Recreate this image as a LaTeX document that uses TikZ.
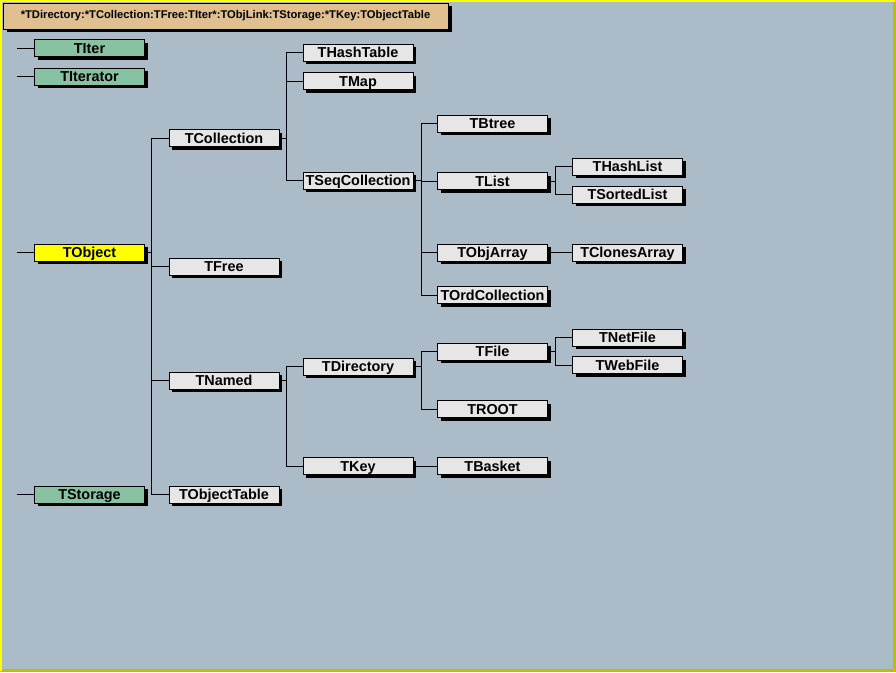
\documentclass[tikz,border=0pt]{standalone}
\usepackage{fontspec}
\setmainfont{Liberation Sans}
\usetikzlibrary{shadows}

\definecolor{canvasbg}{RGB}{171,187,199}
\definecolor{framelight}{RGB}{255,255,0}
\definecolor{framedark}{RGB}{190,190,0}
\definecolor{classwhite}{RGB}{230,230,230}
\definecolor{classgreen}{RGB}{136,194,162}
\definecolor{classroot}{RGB}{255,255,0}
\definecolor{titletan}{RGB}{224,192,144}

\tikzset{
  cls/.style={draw=black, line width=0.75pt, fill=classwhite, minimum width=82.5pt,
    minimum height=12.75pt, inner sep=0pt, text height=7.6pt, text depth=0pt,
    font=\bfseries\fontsize{10.8}{12}\selectfont,
    general shadow={fill=black, shadow xshift=2.25pt, shadow yshift=-2.25pt}},
  extcls/.style={cls, fill=classgreen},
  rootcls/.style={cls, fill=classroot},
  link/.style={line width=0.75pt, black}
}

\begin{document}
\begin{tikzpicture}[x=0.75pt,y=0.75pt,yscale=-1,xscale=1]
%Canvas and frame
\fill [canvasbg] (0,0) rectangle (896,672);
\useasboundingbox (0,0) rectangle (896,672);
\draw [framedark, line width=2.25pt] (1.5,670.5) -- (894.5,670.5) -- (894.5,1.5);
\draw [framelight, line width=1.5pt] (1,671) -- (1,1) -- (895,1);

%Title
\node [draw=black, line width=0.75pt, fill=titletan, minimum width=333.75pt, minimum height=19.5pt,
  inner sep=0pt, text height=6pt, text depth=1.6pt, font=\bfseries\fontsize{8.4}{10}\selectfont,
  general shadow={fill=black, shadow xshift=3pt, shadow yshift=-2.25pt}] (title) at (225.5,16)
  {*TDirectory:*TCollection:TFree:TIter*:TObjLink:TStorage:*TKey:TObjectTable};

%Column 1
\node [extcls] (titer) at (89.5,48) {TIter};
\node [extcls] (titerator) at (89.5,76.5) {TIterator};
\node [rootcls] (tobject) at (89.5,252.5) {TObject};
\node [extcls] (tstorage) at (89.5,494.5) {TStorage};

%Column 2
\node [cls] (tcollection) at (224,138) {TCollection};
\node [cls] (tfree) at (224,266.5) {TFree};
\node [cls] (tnamed) at (224,380.5) {TNamed};
\node [cls] (tobjecttable) at (224,494.5) {TObjectTable};

%Column 3
\node [cls] (thashtable) at (358,52.5) {THashTable};
\node [cls] (tmap) at (358,81) {TMap};
\node [cls] (tseqcollection) at (358,180.5) {TSeqCollection};
\node [cls] (tdirectory) at (358,366.5) {TDirectory};
\node [cls] (tkey) at (358,466) {TKey};

%Column 4
\node [cls] (tbtree) at (492.5,123.5) {TBtree};
\node [cls] (tlist) at (492.5,181) {TList};
\node [cls] (tobjarray) at (492.5,252.5) {TObjArray};
\node [cls] (tordcollection) at (492.5,295) {TOrdCollection};
\node [cls] (tfile) at (492.5,351.5) {TFile};
\node [cls] (troot) at (492.5,409) {TROOT};
\node [cls] (tbasket) at (492.5,466) {TBasket};

%Column 5
\node [cls] (thashlist) at (627.5,166.5) {THashList};
\node [cls] (tsortedlist) at (627.5,194.5) {TSortedList};
\node [cls] (tclonesarray) at (627.5,252.5) {TClonesArray};
\node [cls] (tnetfile) at (627.5,337.5) {TNetFile};
\node [cls] (twebfile) at (627.5,365) {TWebFile};

%Root stubs
\foreach \r in {titer,titerator,tobject,tstorage}
  \draw [link] (\r.west) -- ++(-17,0);

%Inheritance links
\foreach \c in {tcollection,tfree,tnamed,tobjecttable}
  \draw [link] (tobject.east) -- ++(6,0) |- (\c.west);
\foreach \c in {thashtable,tmap,tseqcollection}
  \draw [link] (tcollection.east) -- ++(7,0) |- (\c.west);
\foreach \c in {tdirectory,tkey}
  \draw [link] (tnamed.east) -- ++(7,0) |- (\c.west);
\foreach \c in {tbtree,tlist,tobjarray,tordcollection}
  \draw [link] (tseqcollection.east) -- ++(8,0) |- (\c.west);
\foreach \c in {tfile,troot}
  \draw [link] (tdirectory.east) -- ++(8,0) |- (\c.west);
\draw [link] (tkey.east) -- (tbasket.west);
\foreach \c in {thashlist,tsortedlist}
  \draw [link] (tlist.east) -- ++(7,0) |- (\c.west);
\draw [link] (tobjarray.east) -- (tclonesarray.west);
\foreach \c in {tnetfile,twebfile}
  \draw [link] (tfile.east) -- ++(7,0) |- (\c.west);

\end{tikzpicture}
\end{document}
